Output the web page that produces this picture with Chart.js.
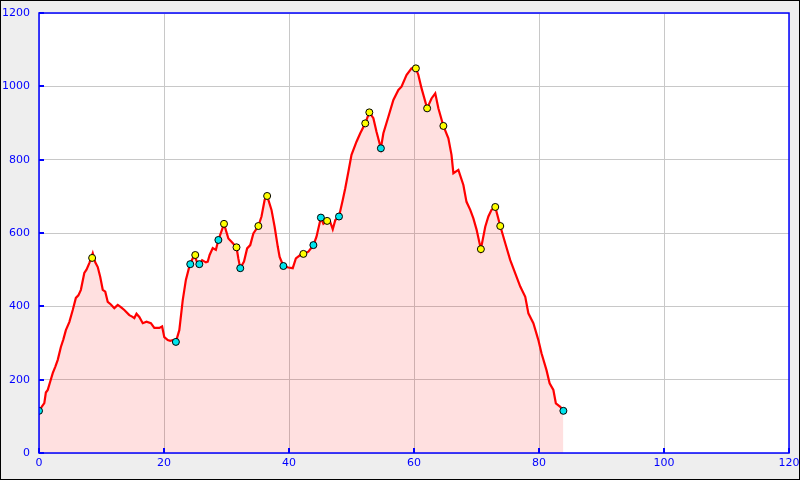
<!DOCTYPE html>
<html>
<head>
<meta charset="utf-8">
<script src="https://cdn.jsdelivr.net/npm/chart.js@4"></script>
<style>
  html, body { margin: 0; padding: 0; background: #eeeeee; }
  canvas { display: block; }
</style>
</head>
<body>
<canvas id="profil" width="800" height="480"></canvas>
<script>
// distance (km) and elevation (m) of the profile
const distance = [
  0.0, 0.4, 0.85, 1.1, 1.4, 1.8, 2.2, 2.6, 3.0, 3.5, 3.9, 4.3, 4.85, 5.4, 5.9, 6.3, 6.7,
  7.25, 7.6, 8.05, 8.4, 8.6, 9.0, 9.4, 9.8, 10.2, 10.6, 11.0, 11.5, 12.05, 12.6, 13.1,
  13.65, 14.45, 14.9, 15.25, 15.6, 16.05, 16.6, 17.2, 17.9, 18.45, 19.25, 19.7, 20.05,
  20.6, 21.0, 21.4, 21.9, 22.45, 23.0, 23.5, 24.15, 24.85, 25.3, 25.65, 26.1, 26.7, 27.0,
  27.3, 27.8, 28.3, 28.7, 29.3, 29.6, 30.3, 30.8, 31.6, 31.9, 32.2, 32.8, 33.3, 33.8,
  34.3, 35.1, 35.6, 36.1, 36.5, 37.2, 37.7, 38.2, 38.5, 39.1, 39.9, 40.6, 41.1, 41.8,
  42.3, 43.1, 43.9, 44.4, 45.1, 45.5, 46.1, 46.6, 47.0, 47.4, 48.0, 48.6, 49.0, 49.5,
  50.0, 50.8, 51.4, 52.2, 52.85, 53.5, 54.0, 54.7, 55.1, 55.9, 56.7, 57.5, 58.0, 58.8,
  59.6, 60.3, 60.7, 61.2, 62.1, 62.8, 63.4, 63.9, 64.7, 65.5, 66.0, 66.3, 67.1, 67.9,
  68.4, 69.0, 69.5, 70.0, 70.7, 71.4, 71.9, 72.4, 73.0, 73.8, 74.6, 75.4, 76.2, 77.0,
  77.8, 78.3, 79.1, 79.9, 80.4, 81.2, 81.7, 82.3, 82.7, 83.4, 83.9
];
const elevation = [
  117, 125, 136, 165, 172, 195, 218, 235, 254, 289, 310, 335, 357, 390, 423, 430, 445,
  491, 500, 518, 535, 545, 520, 507, 480, 445, 440, 412, 405, 395, 404, 398,
  390, 376, 372, 368, 380, 371, 354, 358, 354, 341, 341, 345, 316,
  308, 306, 308, 303, 335, 417, 472, 515, 540, 520, 515, 526, 520, 522,
  540, 559, 554, 581, 610, 625, 585, 576, 561, 530, 504, 522, 558, 567,
  599, 619, 645, 690, 701, 663, 617, 563, 535, 510, 506, 504, 531, 540,
  543, 549, 567, 590, 642, 625, 633, 630, 610, 635, 645, 690, 722, 767,
  813, 849, 872, 899, 929, 913, 876, 831, 872, 917, 963, 990, 999, 1031,
  1049, 1049, 1031, 995, 940, 967, 981, 940, 892, 858, 813, 763, 772, 731,
  685, 663, 640, 610, 556, 617, 645, 663, 671, 619, 572, 526, 490, 454,
  426, 381, 354, 308, 272, 226, 190, 172, 135, 126, 115
];

// waypoints
const yellowX = [8.5, 25.0, 29.6, 31.6, 35.1, 36.5, 42.3, 46.1, 52.2, 52.85, 60.3, 62.1, 64.7, 70.7, 73.0, 73.8];
const yellowY = [532, 540, 625, 561, 619, 701, 543, 633, 899, 929, 1049, 940, 892, 556, 671, 619];
const cyanX = [0.0, 21.9, 24.2, 25.65, 28.7, 32.2, 39.1, 43.9, 45.1, 48.0, 54.7, 83.9];
const cyanY = [115, 303, 515, 515, 581, 504, 510, 567, 642, 645, 831, 115];

const xMax = 120;
const yMax = 1200;

function toPoints(xs, ys) {
  return xs.map((x, i) => ({ x: x, y: ys[i] }));
}

const background = {
  id: 'background',
  beforeDraw(chart) {
    const { ctx, chartArea: a } = chart;
    ctx.save();
    ctx.fillStyle = '#eeeeee';
    ctx.fillRect(0, 0, chart.width, chart.height);
    ctx.strokeStyle = '#000';
    ctx.lineWidth = 2;
    ctx.strokeRect(0, 0, chart.width, chart.height);
    ctx.fillStyle = '#ffffff';
    ctx.fillRect(a.left, a.top, a.right - a.left, a.bottom - a.top);
    ctx.restore();
  },
};

const frame = {
  id: 'frame',
  afterDraw(chart) {
    const { ctx, chartArea: a, scales } = chart;
    ctx.save();
    ctx.strokeStyle = '#0000ff';
    ctx.lineWidth = 1.5;
    ctx.strokeRect(a.left, a.top, a.right - a.left, a.bottom - a.top);
    ctx.lineWidth = 2;
    ctx.beginPath();
    scales.y.ticks.forEach(t => {
      const py = Math.round(scales.y.getPixelForValue(t.value));
      ctx.moveTo(a.left, py);
      ctx.lineTo(a.left + 5, py);
    });
    scales.x.ticks.forEach(t => {
      const px = Math.round(scales.x.getPixelForValue(t.value));
      ctx.moveTo(px, a.bottom);
      ctx.lineTo(px, a.bottom - 5);
    });
    ctx.stroke();
    ctx.restore();
  },
};

const markerStyle = {
  type: 'scatter',
  pointRadius: 3.5,
  pointBorderColor: '#000',
  pointBorderWidth: 1,
  showLine: false,
  order: 1,
};

new Chart(document.getElementById('profil'), {
  type: 'line',
  data: {
    datasets: [
      {
        data: toPoints(distance, elevation),
        borderColor: '#ff0000',
        borderWidth: 2.2,
        backgroundColor: 'rgba(255, 0, 0, 0.12)',
        fill: 'origin',
        pointRadius: 0,
        tension: 0,
        order: 2,
      },
      Object.assign({}, markerStyle, {
        data: toPoints(yellowX, yellowY),
        pointBackgroundColor: '#ffff00',
      }),
      Object.assign({}, markerStyle, {
        data: toPoints(cyanX, cyanY),
        pointBackgroundColor: '#00e5ee',
      }),
    ],
  },
  options: {
    responsive: false,
    animation: false,
    layout: { padding: { top: 13, right: 11, left: 0, bottom: 0 } },
    plugins: {
      legend: { display: false },
      tooltip: { enabled: false },
    },
    scales: {
      x: {
        type: 'linear',
        min: 0,
        max: xMax,
        afterFit: s => { s.height = 27; s.paddingLeft = 0; s.paddingRight = 0; },
        grid: { color: '#c8c8c8', drawTicks: false },
        border: { display: false },
        ticks: {
          stepSize: 20,
          padding: 4,
          color: '#0000ff',
          font: { family: 'DejaVu Sans', size: 11 },
          callback: v => String(v),
        },
      },
      y: {
        min: 0,
        max: yMax,
        afterFit: s => { s.width = 39; s.paddingTop = 0; s.paddingBottom = 0; },
        grid: { color: '#c8c8c8', drawTicks: false },
        border: { display: false },
        ticks: {
          stepSize: 200,
          padding: 9,
          color: '#0000ff',
          font: { family: 'DejaVu Sans', size: 11 },
          callback: v => String(v),
        },
      },
    },
  },
  plugins: [background, frame],
});
</script>
</body>
</html>
